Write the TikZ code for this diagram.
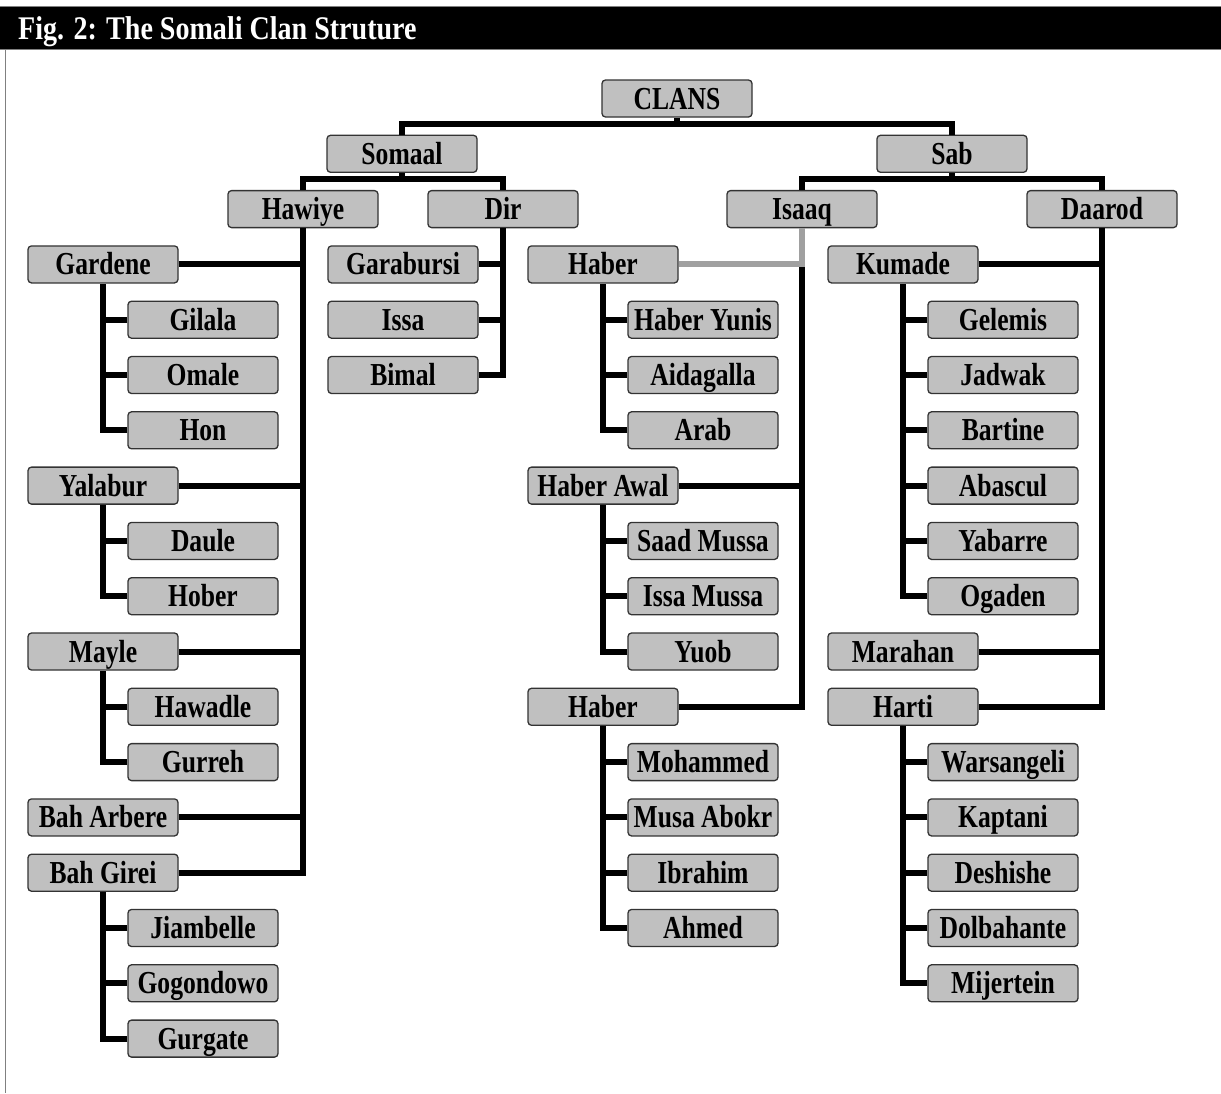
\documentclass[tikz,border=0pt]{standalone}
\usepackage{fontspec}
\setmainfont{Liberation Serif}
\newfontfamily\boxfont[FakeStretch=0.80]{Liberation Serif}
\newfontfamily\headfont[FakeStretch=0.85]{Liberation Serif}
\definecolor{boxgray}{HTML}{C0C0C0}
\definecolor{linkgray}{HTML}{A0A0A0}
\begin{document}
\begin{tikzpicture}[x=1pt,y=-1pt,
  box/.style={draw=black!80, line width=1.3pt, fill=boxgray, rounded corners=3.5pt,
    minimum width=150pt, minimum height=37pt, inner sep=0pt,
    text height=21pt, text depth=0pt,
    font=\boxfont\fontsize{32}{32}\selectfont\bfseries},
  link/.style={line width=6pt, draw=black},
  glink/.style={line width=6pt, draw=linkgray}]
\useasboundingbox (0,0) rectangle (1221,1093);
% title bar
\fill[black] (0,6) rectangle (1221,49);
\draw[gray, line width=1pt] (0,6) -- (1221,6) (0,49) -- (1221,49);
\node[anchor=base west, text=white, inner sep=0pt,
  font=\headfont\fontsize{33}{33}\selectfont\bfseries] (title) at (18,39)
  {Fig. 2: The Somali Clan Struture};
\draw[gray, line width=1.5pt] (5.5,49) -- (5.5,1093);
% top levels
\node[box] (clans) at (677,98.5) {CLANS};
\node[box] (somaal) at (402,153.8) {Somaal};
\node[box] (sab) at (952,153.8) {Sab};
\node[box] (hawiye) at (303,209.1) {Hawiye};
\node[box] (dir) at (503,209.1) {Dir};
\node[box] (isaaq) at (802,209.1) {Isaaq};
\node[box] (daarod) at (1102,209.1) {Daarod};
% Hawiye branch
\node[box] (gardene) at (103,264.4) {Gardene};
\node[box] (gilala) at (203,319.7) {Gilala};
\node[box] (omale) at (203,375.0) {Omale};
\node[box] (hon) at (203,430.3) {Hon};
\node[box] (yalabur) at (103,485.6) {Yalabur};
\node[box] (daule) at (203,540.9) {Daule};
\node[box] (hober) at (203,596.2) {Hober};
\node[box] (mayle) at (103,651.5) {Mayle};
\node[box] (hawadle) at (203,706.8) {Hawadle};
\node[box] (gurreh) at (203,762.1) {Gurreh};
\node[box] (baharbere) at (103,817.4) {Bah Arbere};
\node[box] (bahgirei) at (103,872.7) {Bah Girei};
\node[box] (jiambelle) at (203,928.0) {Jiambelle};
\node[box] (gogondowo) at (203,983.3) {Gogondowo};
\node[box] (gurgate) at (203,1038.6) {Gurgate};
% Dir branch
\node[box] (garabursi) at (403,264.4) {Garabursi};
\node[box] (issa) at (403,319.7) {Issa};
\node[box] (bimal) at (403,375.0) {Bimal};
% Isaaq branch
\node[box] (haberA) at (603,264.4) {Haber};
\node[box] (haberyunis) at (703,319.7) {Haber Yunis};
\node[box] (aidagalla) at (703,375.0) {Aidagalla};
\node[box] (arab) at (703,430.3) {Arab};
\node[box] (haberawal) at (603,485.6) {Haber Awal};
\node[box] (saadmussa) at (703,540.9) {Saad Mussa};
\node[box] (issamussa) at (703,596.2) {Issa Mussa};
\node[box] (yuob) at (703,651.5) {Yuob};
\node[box] (haberB) at (603,706.8) {Haber};
\node[box] (mohammed) at (703,762.1) {Mohammed};
\node[box] (musaabokr) at (703,817.4) {Musa Abokr};
\node[box] (ibrahim) at (703,872.7) {Ibrahim};
\node[box] (ahmed) at (703,928.0) {Ahmed};
% Daarod branch
\node[box] (kumade) at (903,264.4) {Kumade};
\node[box] (gelemis) at (1003,319.7) {Gelemis};
\node[box] (jadwak) at (1003,375.0) {Jadwak};
\node[box] (bartine) at (1003,430.3) {Bartine};
\node[box] (abascul) at (1003,485.6) {Abascul};
\node[box] (yabarre) at (1003,540.9) {Yabarre};
\node[box] (ogaden) at (1003,596.2) {Ogaden};
\node[box] (marahan) at (903,651.5) {Marahan};
\node[box] (harti) at (903,706.8) {Harti};
\node[box] (warsangeli) at (1003,762.1) {Warsangeli};
\node[box] (kaptani) at (1003,817.4) {Kaptani};
\node[box] (deshishe) at (1003,872.7) {Deshishe};
\node[box] (dolbahante) at (1003,928.0) {Dolbahante};
\node[box] (mijertein) at (1003,983.3) {Mijertein};
% connectors: top
\draw[link] (clans.south) -- ++(0,8);
\draw[link] (somaal.north) -- ++(0,-10.5) -| (sab.north);
\draw[link] (somaal.south) -- ++(0,7);
\draw[link] (hawiye.north) -- ++(0,-10.5) -| (dir.north);
\draw[link] (sab.south) -- ++(0,7);
\draw[link] (isaaq.north) -- ++(0,-10.5) -| (daarod.north);
% Hawiye
\draw[link] (bahgirei.east) -| (hawiye.south);
\foreach \n in {gardene,yalabur,mayle,baharbere}
  \draw[link] (\n.east) -- (\n.east -| hawiye.south);
\draw[link] (hon.west) -| (gardene.south);
\foreach \n in {gilala,omale} \draw[link] (\n.west) -- (\n.west -| gardene.south);
\draw[link] (hober.west) -| (yalabur.south);
\draw[link] (daule.west) -- (daule.west -| yalabur.south);
\draw[link] (gurreh.west) -| (mayle.south);
\draw[link] (hawadle.west) -- (hawadle.west -| mayle.south);
\draw[link] (gurgate.west) -| (bahgirei.south);
\foreach \n in {jiambelle,gogondowo} \draw[link] (\n.west) -- (\n.west -| bahgirei.south);
% Dir
\draw[link] (bimal.east) -| (dir.south);
\foreach \n in {garabursi,issa} \draw[link] (\n.east) -- (\n.east -| dir.south);
% Isaaq
\draw[glink] (haberA.east) -| (isaaq.south);
\draw[link] (haberB.east) -| ([yshift=-3pt]isaaq.south |- haberA.east);
\draw[link] (haberawal.east) -- (haberawal.east -| isaaq.south);
\draw[link] (arab.west) -| (haberA.south);
\foreach \n in {haberyunis,aidagalla} \draw[link] (\n.west) -- (\n.west -| haberA.south);
\draw[link] (yuob.west) -| (haberawal.south);
\foreach \n in {saadmussa,issamussa} \draw[link] (\n.west) -- (\n.west -| haberawal.south);
\draw[link] (ahmed.west) -| (haberB.south);
\foreach \n in {mohammed,musaabokr,ibrahim} \draw[link] (\n.west) -- (\n.west -| haberB.south);
% Daarod
\draw[link] (harti.east) -| (daarod.south);
\foreach \n in {kumade,marahan} \draw[link] (\n.east) -- (\n.east -| daarod.south);
\draw[link] (ogaden.west) -| (kumade.south);
\foreach \n in {gelemis,jadwak,bartine,abascul,yabarre} \draw[link] (\n.west) -- (\n.west -| kumade.south);
\draw[link] (mijertein.west) -| (harti.south);
\foreach \n in {warsangeli,kaptani,deshishe,dolbahante} \draw[link] (\n.west) -- (\n.west -| harti.south);
\end{tikzpicture}
\end{document}
